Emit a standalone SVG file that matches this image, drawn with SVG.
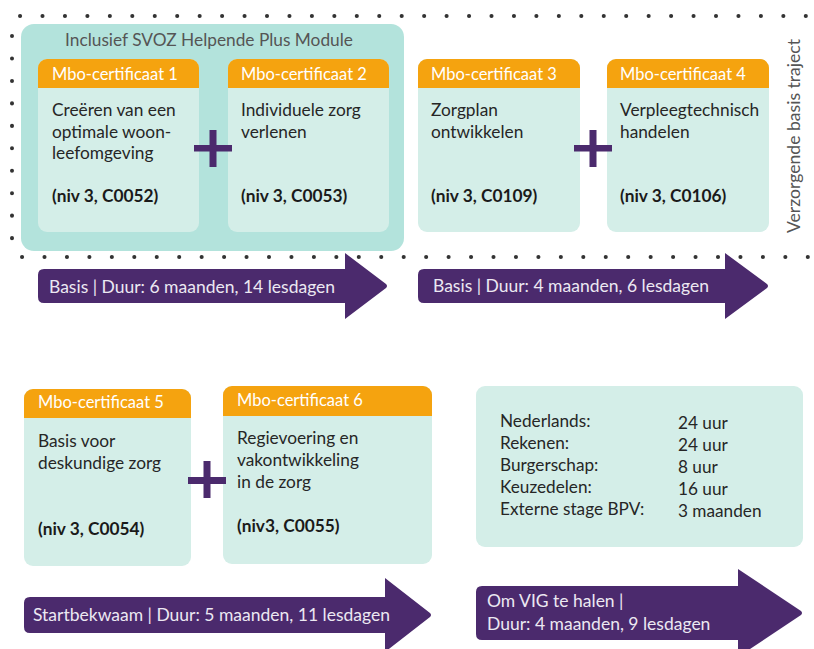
<svg xmlns="http://www.w3.org/2000/svg" width="814" height="649" viewBox="0 0 814 649">
<defs>
<style>
.t{font-family:Lato,"Open Sans","DejaVu Sans",sans-serif;}
.hdr{font-size:16.5px;fill:#ffffff;}
.body{font-size:17.3px;fill:#262626;}
.code{font-size:17.3px;fill:#1a1a1a;font-weight:bold;}
.arr{fill:#4b2a6d;}
.arrt{font-size:17.5px;fill:#ece8f2;}
.card{fill:#d4eee8;}
.head{fill:#f5a30f;}
.plus{fill:#4b2a6d;}
.dots{fill:none;stroke:#333333;stroke-width:4;stroke-linecap:round;stroke-dasharray:0.1 22.35;}
.gray{font-size:17.3px;fill:#555555;}
.vert{font-size:17.6px;fill:#555555;}
.info{font-size:17.2px;fill:#262626;}
</style>
</defs>
<rect width="814" height="649" fill="#ffffff"/>

<g id="frame">
<path class="dots" d="M20,16 L808,16"/>
<path class="dots" d="M12,36 L12,240"/>
<path class="dots" d="M22,257 L808,257"/>
</g>

<g id="helpende-plus">
<rect x="21" y="24" width="383" height="227" rx="13" fill="#b3e3dc"/>
<text class="t gray" x="209" y="46" text-anchor="middle">Inclusief SVOZ Helpende Plus Module</text>
</g>

<g id="cert1">
<rect class="card" x="38" y="59" width="161" height="173" rx="9"/>
<path class="head" d="M38,88 V68 a9,9 0 0 1 9,-9 H190 a9,9 0 0 1 9,9 V88 Z"/>
<text class="t hdr" x="52" y="80">Mbo-certificaat 1</text>
<text class="t body" x="52" y="116">Creëren van een</text>
<text class="t body" x="52" y="138">optimale woon-</text>
<text class="t body" x="52" y="159">leefomgeving</text>
<text class="t code" x="52" y="202">(niv 3, C0052)</text>
</g>

<g id="cert2">
<rect class="card" x="228" y="59" width="161" height="173" rx="9"/>
<path class="head" d="M228,88 V68 a9,9 0 0 1 9,-9 H380 a9,9 0 0 1 9,9 V88 Z"/>
<text class="t hdr" x="241" y="80">Mbo-certificaat 2</text>
<text class="t body" x="241" y="116">Individuele zorg</text>
<text class="t body" x="241" y="138">verlenen</text>
<text class="t code" x="241" y="202">(niv 3, C0053)</text>
</g>

<g id="cert3">
<rect class="card" x="418" y="59" width="162" height="173" rx="9"/>
<path class="head" d="M418,88 V68 a9,9 0 0 1 9,-9 H571 a9,9 0 0 1 9,9 V88 Z"/>
<text class="t hdr" x="431" y="80">Mbo-certificaat 3</text>
<text class="t body" x="431" y="116">Zorgplan</text>
<text class="t body" x="431" y="138">ontwikkelen</text>
<text class="t code" x="431" y="202">(niv 3, C0109)</text>
</g>

<g id="cert4">
<rect class="card" x="607" y="59" width="162" height="173" rx="9"/>
<path class="head" d="M607,88 V68 a9,9 0 0 1 9,-9 H760 a9,9 0 0 1 9,9 V88 Z"/>
<text class="t hdr" x="620" y="80">Mbo-certificaat 4</text>
<text class="t body" x="620" y="116">Verpleegtechnisch</text>
<text class="t body" x="620" y="138">handelen</text>
<text class="t code" x="620" y="202">(niv 3, C0106)</text>
</g>

<g id="traject-label">
<text class="t vert" transform="translate(800,136) rotate(-90)" text-anchor="middle">Verzorgende basis traject</text>
</g>

<g id="cert5">
<rect class="card" x="24" y="389" width="167" height="177" rx="9"/>
<path class="head" d="M24,418 V398 a9,9 0 0 1 9,-9 H182 a9,9 0 0 1 9,9 V418 Z"/>
<text class="t hdr" x="38" y="408">Mbo-certificaat 5</text>
<text class="t body" x="38" y="447">Basis voor</text>
<text class="t body" x="38" y="469">deskundige zorg</text>
<text class="t code" x="38" y="535">(niv 3, C0054)</text>
</g>

<g id="cert6">
<rect class="card" x="223" y="386" width="209" height="178" rx="9"/>
<path class="head" d="M223,416 V395 a9,9 0 0 1 9,-9 H423 a9,9 0 0 1 9,9 V416 Z"/>
<text class="t hdr" x="237" y="406">Mbo-certificaat 6</text>
<text class="t body" x="237" y="444">Regievoering en</text>
<text class="t body" x="237" y="466">vakontwikkeling</text>
<text class="t body" x="237" y="488">in de zorg</text>
<text class="t code" x="237" y="532">(niv3, C0055)</text>
</g>

<g id="generiek">
<rect class="card" x="476" y="386" width="327" height="161" rx="9"/>
<text class="t info" x="500" y="427">Nederlands:</text>
<text class="t info" x="500" y="449">Rekenen:</text>
<text class="t info" x="500" y="471">Burgerschap:</text>
<text class="t info" x="500" y="493">Keuzedelen:</text>
<text class="t info" x="500" y="515">Externe stage BPV:</text>
<text class="t info" x="678" y="429">24 uur</text>
<text class="t info" x="678" y="451">24 uur</text>
<text class="t info" x="678" y="473">8 uur</text>
<text class="t info" x="678" y="495">16 uur</text>
<text class="t info" x="678" y="517">3 maanden</text>
</g>

<g id="plus-signs">
<rect class="plus" x="194" y="145" width="38" height="6.5"/>
<rect class="plus" x="209.5" y="130" width="7" height="37"/>
<rect class="plus" x="574" y="145" width="38" height="6.5"/>
<rect class="plus" x="589.5" y="130" width="7" height="37"/>
<rect class="plus" x="188" y="477" width="38" height="7"/>
<rect class="plus" x="203.5" y="461" width="7" height="37"/>
</g>

<g id="connectors">
<path class="arr" d="M44,269 H345 V253 L386,284 Q388,286 386,288 L345,319 V303 H44 Q38,303 38,297 V275 Q38,269 44,269 Z"/>
<text class="t arrt" x="49" y="293">Basis | Duur: 6 maanden, 14 lesdagen</text>
<path class="arr" d="M424,269 H725 V253 L767,284 Q769,286 767,288 L725,319 V303 H424 Q418,303 418,297 V275 Q418,269 424,269 Z"/>
<text class="t arrt" x="433" y="292">Basis | Duur: 4 maanden, 6 lesdagen</text>
<path class="arr" d="M30,597 H385 V578 L430,613 Q432,615 430,617 L385,652 V633 H30 Q24,633 24,627 V603 Q24,597 30,597 Z"/>
<text class="t arrt" x="33" y="621">Startbekwaam | Duur: 5 maanden, 11 lesdagen</text>
<path class="arr" d="M482,586 H738 V569 L801,611 Q803,613 801,615 L738,657 V640 H482 Q476,640 476,634 V592 Q476,586 482,586 Z"/>
<text class="t arrt" x="487" y="607">Om VIG te halen |</text>
<text class="t arrt" x="487" y="630">Duur: 4 maanden, 9 lesdagen</text>
</g>
</svg>
